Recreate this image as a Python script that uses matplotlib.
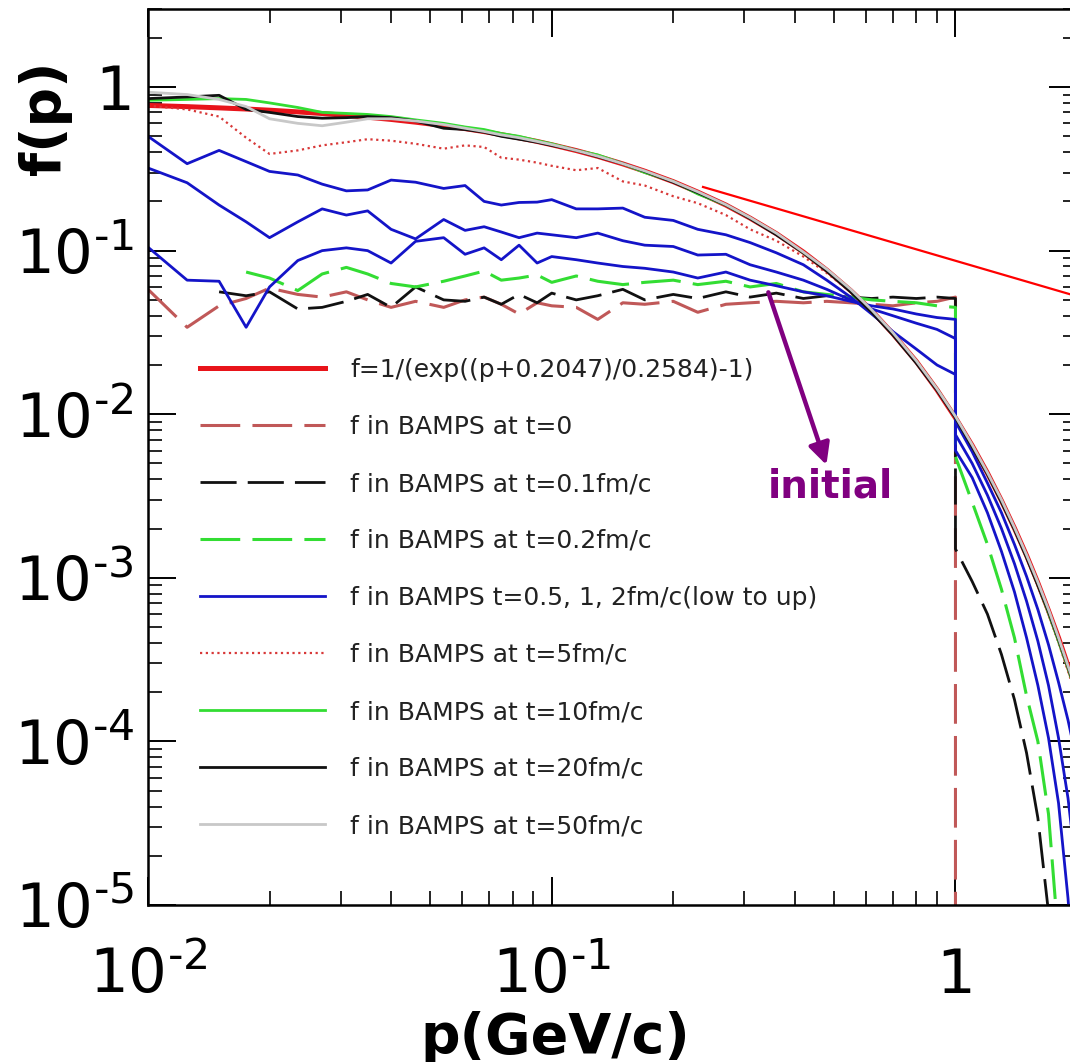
import numpy as np
import matplotlib.pyplot as plt
from matplotlib.ticker import LogLocator, FuncFormatter, NullFormatter

plt.rcParams['font.family'] = ['DejaVu Sans']
plt.rcParams['mathtext.default'] = 'regular'

# momentum grid (GeV/c) up to the cut at p = 1, and above it
p_lo = np.array([0.010, 0.0125, 0.015, 0.0175, 0.020, 0.0235, 0.027, 0.031, 0.035, 0.040,
                 0.046, 0.054, 0.061, 0.068, 0.075, 0.083, 0.092, 0.10, 0.115, 0.13,
                 0.15, 0.17, 0.20, 0.23, 0.27, 0.31, 0.36, 0.42, 0.48, 0.55,
                 0.62, 0.70, 0.80, 0.90, 1.0])
p_hi = np.array([1.1, 1.2, 1.3, 1.4, 1.5, 1.6, 1.7, 1.8, 1.9, 2.0])

# thermal fit f=1/(exp((p+0.2047)/0.2584)-1)
f_fit_lo = [0.772, 0.759, 0.746, 0.734, 0.722, 0.705, 0.689, 0.671, 0.654, 0.634,
            0.610, 0.581, 0.557, 0.534, 0.512, 0.489, 0.465, 0.444, 0.409, 0.377,
            0.339, 0.306, 0.264, 0.228, 0.190, 0.158, 0.127, 0.098, 0.076, 0.057,
            0.043, 0.031, 0.021, 0.0141, 0.0095]
f_fit_hi = [0.00644, 0.00437, 0.00296, 0.00201, 0.00137, 0.00093, 0.00063, 0.00043, 0.00029, 0.00020]

# BAMPS t=0 (step at p=1, nothing above)
f_t0_lo = [0.058, 0.034, 0.046, 0.051, 0.059, 0.054, 0.052, 0.056, 0.050, 0.045,
           0.049, 0.045, 0.050, 0.052, 0.047, 0.041, 0.048, 0.046, 0.045, 0.038,
           0.048, 0.047, 0.049, 0.042, 0.047, 0.048, 0.049, 0.048, 0.049, 0.048,
           0.047, 0.046, 0.048, 0.049, 0.052]

# t=0.1 fm/c, starts at p_lo[2]
f_t01_lo = [0.056, 0.053, 0.056, 0.044, 0.045, 0.049, 0.054, 0.045, 0.060, 0.050,
            0.049, 0.052, 0.047, 0.054, 0.048, 0.055, 0.050, 0.053, 0.058, 0.050,
            0.054, 0.051, 0.056, 0.052, 0.055, 0.051, 0.053, 0.052, 0.051, 0.052,
            0.051, 0.052, 0.051]
f_t01_cut = 0.0015
f_t01_hi = [0.00095, 0.00060, 0.00034, 0.00018, 8.5e-5, 3.4e-5, 9e-6, 2e-6, 5e-7, 1e-7]

# t=0.2 fm/c, starts at p_lo[3]
f_t02_lo = [0.074, 0.068, 0.057, 0.072, 0.079, 0.072, 0.063, 0.060, 0.065, 0.070,
            0.075, 0.066, 0.068, 0.071, 0.064, 0.070, 0.065, 0.062, 0.064, 0.066,
            0.062, 0.065, 0.060, 0.063, 0.056, 0.054, 0.052, 0.050, 0.049, 0.048,
            0.046, 0.045]
f_t02_cut = 0.0055
f_t02_hi = [0.0029, 0.0016, 0.00085, 0.00043, 0.00019, 0.00010, 3.6e-5, 6e-6, 1e-6, 2e-7]

# t=0.5, 1, 2 fm/c
f_t05_lo = [0.105, 0.066, 0.065, 0.034, 0.060, 0.087, 0.100, 0.104, 0.100, 0.084,
            0.114, 0.120, 0.095, 0.104, 0.088, 0.108, 0.084, 0.092, 0.088, 0.084,
            0.080, 0.078, 0.074, 0.068, 0.074, 0.066, 0.061, 0.056, 0.053, 0.049,
            0.046, 0.044, 0.041, 0.039, 0.038]
f_t05_cut = 0.0060
f_t05_hi = [0.0041, 0.0025, 0.00145, 0.00082, 0.00043, 0.00022, 0.000105, 4.2e-5, 1.1e-5, 2e-6]

f_t1_lo = [0.32, 0.26, 0.19, 0.15, 0.12, 0.15, 0.18, 0.165, 0.175, 0.135,
           0.118, 0.155, 0.133, 0.14, 0.13, 0.12, 0.128, 0.125, 0.12, 0.128,
           0.115, 0.108, 0.106, 0.094, 0.095, 0.082, 0.074, 0.066, 0.058, 0.050,
           0.044, 0.040, 0.036, 0.033, 0.029]
f_t1_cut = 0.0075
f_t1_hi = [0.0050, 0.0032, 0.0020, 0.00122, 0.00072, 0.00041, 0.00022, 0.000105, 4.5e-5, 1.5e-5]

f_t2_lo = [0.50, 0.34, 0.41, 0.35, 0.305, 0.29, 0.255, 0.232, 0.235, 0.27,
           0.262, 0.24, 0.25, 0.20, 0.19, 0.197, 0.198, 0.205, 0.18, 0.18,
           0.182, 0.16, 0.153, 0.135, 0.125, 0.112, 0.097, 0.082, 0.066, 0.052,
           0.041, 0.032, 0.025, 0.020, 0.0175]
f_t2_cut = 0.0090
f_t2_hi = [0.0059, 0.0038, 0.0025, 0.00160, 0.00102, 0.00064, 0.00039, 0.00023, 0.000135, 7.5e-5]

# late times, close to thermal
f_t5_lo = [0.77, 0.73, 0.66, 0.49, 0.39, 0.41, 0.44, 0.46, 0.48, 0.47,
           0.45, 0.42, 0.44, 0.43, 0.37, 0.36, 0.345, 0.33, 0.31, 0.32,
           0.265, 0.25, 0.215, 0.195, 0.165, 0.135, 0.115, 0.092, 0.073, 0.056,
           0.042, 0.031, 0.021, 0.0141, 0.0096]
f_t5_hi = [0.0063, 0.0043, 0.0029, 0.00195, 0.00132, 0.00089, 0.00060, 0.00040, 0.00027, 0.00018]

f_t10_lo = [0.83, 0.84, 0.85, 0.84, 0.80, 0.75, 0.70, 0.69, 0.68, 0.66,
            0.63, 0.60, 0.57, 0.55, 0.52, 0.50, 0.47, 0.45, 0.41, 0.385,
            0.34, 0.30, 0.265, 0.222, 0.19, 0.158, 0.127, 0.097, 0.076, 0.057,
            0.043, 0.031, 0.021, 0.0142, 0.0096]
f_t10_hi = [0.0064, 0.00435, 0.00294, 0.00199, 0.00135, 0.00091, 0.00061, 0.00041, 0.00028, 0.00019]

f_t20_lo = [0.85, 0.87, 0.89, 0.73, 0.70, 0.66, 0.645, 0.65, 0.66, 0.65,
            0.62, 0.56, 0.55, 0.53, 0.50, 0.48, 0.46, 0.44, 0.41, 0.375,
            0.34, 0.305, 0.262, 0.226, 0.19, 0.157, 0.125, 0.097, 0.075, 0.056,
            0.042, 0.0305, 0.0205, 0.0140, 0.0095]
f_t20_hi = [0.0063, 0.0043, 0.0029, 0.00197, 0.00133, 0.00090, 0.00062, 0.00042, 0.000285, 0.000195]

f_t50_lo = [0.93, 0.90, 0.84, 0.76, 0.64, 0.60, 0.58, 0.61, 0.64, 0.64,
            0.62, 0.59, 0.56, 0.535, 0.51, 0.49, 0.465, 0.445, 0.41, 0.378,
            0.34, 0.307, 0.265, 0.229, 0.191, 0.159, 0.128, 0.098, 0.077, 0.058,
            0.0435, 0.0315, 0.0212, 0.0143, 0.0097]
f_t50_hi = [0.0065, 0.0044, 0.0030, 0.00203, 0.00138, 0.00094, 0.00064, 0.00043, 0.00029, 0.00020]

labels = ['f=1/(exp((p+0.2047)/0.2584)-1)',
          'f in BAMPS at t=0',
          'f in BAMPS at t=0.1fm/c',
          'f in BAMPS at t=0.2fm/c',
          'f in BAMPS t=0.5, 1, 2fm/c(low to up)',
          'f in BAMPS at t=5fm/c',
          'f in BAMPS at t=10fm/c',
          'f in BAMPS at t=20fm/c',
          'f in BAMPS at t=50fm/c']


def with_step(p_start, lo, cut, hi):
    # values up to p=1, then the drop at p=1, then the tail
    p = np.concatenate([p_start, [1.0], p_hi])
    f = np.concatenate([lo, [cut], hi])
    return p, f


def smooth(lo, hi):
    return np.concatenate([p_lo, p_hi]), np.concatenate([lo, hi])


fig = plt.figure(figsize=(10.70, 10.62), dpi=100)
ax = fig.add_axes([148/1070, 1-905/1062, (1077-148)/1070, (905-9)/1062])

dash = (0, (13, 4))
handles = []
h, = ax.plot(*smooth(f_fit_lo, f_fit_hi), color='#e8141a', lw=3.6, label=labels[0])
handles.append(h)
h, = ax.plot(np.concatenate([p_lo, [1.0]]), np.concatenate([f_t0_lo, [1e-7]]),
             color='#c05858', lw=2.2, ls=dash, label=labels[1])
handles.append(h)
h, = ax.plot(*with_step(p_lo[2:], f_t01_lo, f_t01_cut, f_t01_hi), color='#111111',
             lw=2.0, ls=dash, label=labels[2])
handles.append(h)
h, = ax.plot(*with_step(p_lo[3:], f_t02_lo, f_t02_cut, f_t02_hi), color='#33dd33',
             lw=2.2, ls=dash, label=labels[3])
handles.append(h)
for lo, cut, hi in [(f_t05_lo, f_t05_cut, f_t05_hi), (f_t1_lo, f_t1_cut, f_t1_hi),
                    (f_t2_lo, f_t2_cut, f_t2_hi)]:
    h, = ax.plot(*with_step(p_lo, lo, cut, hi), color='#1414c8', lw=2.0)
h.set_label(labels[4])
handles.append(h)
h, = ax.plot(*smooth(f_t5_lo, f_t5_hi), color='#d83838', lw=1.6, ls=(0, (1, 1.6)), label=labels[5])
handles.append(h)
h, = ax.plot(*smooth(f_t10_lo, f_t10_hi), color='#33dd33', lw=2.0, label=labels[6])
handles.append(h)
h, = ax.plot(*smooth(f_t20_lo, f_t20_hi), color='#111111', lw=2.0, label=labels[7])
handles.append(h)
h, = ax.plot(*smooth(f_t50_lo, f_t50_hi), color='#c8c8c8', lw=2.0, label=labels[8])
handles.append(h)

ax.set_xscale('log')
ax.set_yscale('log')
ax.set_xlim(0.01, 2.0)
ax.set_ylim(1e-5, 3.0)


def fmt(v, pos):
    e = int(round(np.log10(v)))
    if e == 0:
        return '1'
    # plain hyphen in the exponent, as in the original
    return '$10^{\u2010%d}$' % (-e)


for axis in (ax.xaxis, ax.yaxis):
    axis.set_major_locator(LogLocator(base=10, numticks=20))
    axis.set_minor_locator(LogLocator(base=10, subs=np.arange(2, 10), numticks=100))
    axis.set_major_formatter(FuncFormatter(fmt))
    axis.set_minor_formatter(NullFormatter())

ax.tick_params(which='both', direction='in', top=True, right=True)
ax.tick_params(which='major', length=20, width=1.4, labelsize=44)
ax.tick_params(which='minor', length=10, width=1.2)
ax.tick_params(axis='x', which='major', pad=30)
ax.tick_params(axis='y', which='major', pad=10)
for s in ax.spines.values():
    s.set_linewidth(1.8)

ax.legend(handles=handles, loc='upper left', bbox_to_anchor=(200/1070, 1-358/1062),
          bbox_transform=fig.transFigure, frameon=False, fontsize=18, borderpad=0,
          borderaxespad=0, handlelength=5.0, handletextpad=1.0, labelspacing=1.32,
          labelcolor='#222222')

# pointer line and the "initial" arrow
ax.plot([0.237, 2.0], [0.245, 0.0526], color='#ff0000', lw=1.6)
ax.annotate('', xy=(0.479, 0.0049), xytext=(0.344, 0.0556),
            arrowprops=dict(arrowstyle='-|>', color='#800080', lw=3.2,
                            mutation_scale=32, shrinkA=0, shrinkB=0))
ax.text(0.49, 0.0036, 'initial', color='#800080', fontsize=28, fontweight='bold',
        ha='center', va='center')

fig.text(45/1070, 1-118/1062, 'f(p)', rotation=90, fontsize=40, fontweight='bold',
         ha='center', va='center')
fig.text(555/1070, 1-1038/1062, 'p(GeV/c)', fontsize=40, fontweight='bold',
         ha='center', va='center')

fig.savefig('out.png', dpi=100)
